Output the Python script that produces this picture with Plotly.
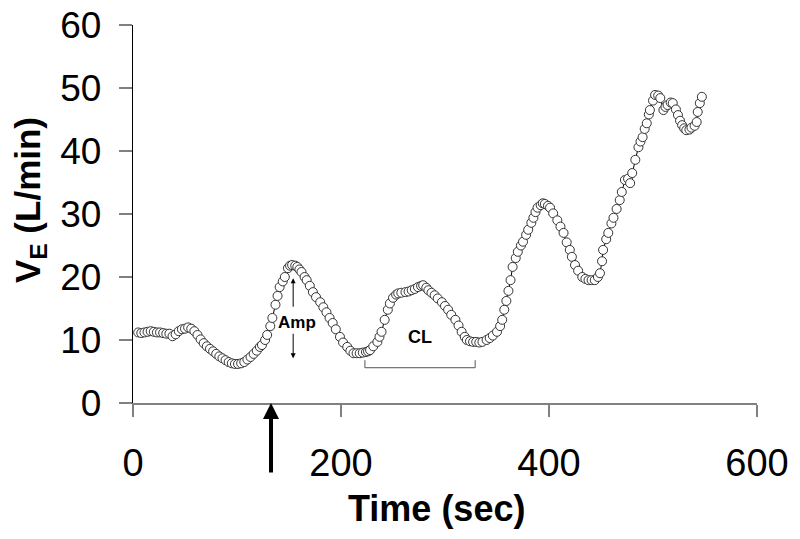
import plotly.graph_objects as go

# breath-by-breath ventilation
time_sec = [5, 8, 11, 14, 17, 20, 23, 26, 29, 32, 35, 38, 41, 44, 47, 50, 53, 56, 59, 62,
            65, 68, 71, 74, 77, 80, 83, 86, 89, 92, 95, 98, 101, 104, 107, 110, 113, 116, 119, 122,
            124, 127, 129, 132, 134, 137, 139, 141, 144, 146, 149, 151, 153, 156, 158, 160, 162, 165, 167, 170,
            173, 176, 180, 183, 186, 189, 192, 195, 199, 202, 206, 209, 212, 215, 218, 221, 224, 226, 228, 231,
            235, 237, 239, 242, 245, 247, 250, 253, 255, 258, 262, 265, 268, 271, 274, 277, 279, 282, 284, 287,
            290, 293, 297, 300, 303, 306, 310, 313, 316, 319, 321, 324, 327, 330, 333, 336, 340, 343, 346, 350,
            353, 355, 357, 359, 361, 363, 365, 368, 370, 373, 375, 378, 380, 383, 385, 387, 389, 392, 394, 396,
            399, 401, 404, 408, 411, 414, 417, 420, 422, 425, 428, 432, 435, 438, 441, 444, 447, 449, 451, 452,
            455, 457, 460, 462, 465, 468, 470, 473, 476, 478, 480, 483, 486, 488, 490, 492, 494, 496, 497, 500,
            502, 505, 507, 510, 512, 514, 517, 519, 522, 524, 526, 528, 530, 532, 535, 537, 540, 542, 543, 545,
            547]
ve_lmin = [11.2, 11.1, 11.2, 11.3, 11.4, 11.3, 11.2, 11.2, 11.1, 11.0, 11.0, 10.6, 10.9, 11.4, 11.7, 11.8, 12.0, 11.8, 11.4, 10.8,
           10.1, 9.5, 9.0, 8.6, 8.2, 7.8, 7.4, 7.1, 6.8, 6.5, 6.3, 6.2, 6.2, 6.3, 6.5, 6.9, 7.3, 7.8, 8.3, 8.9,
           9.2, 10.0, 10.8, 12.2, 13.5, 15.6, 17.0, 18.4, 19.3, 20.0, 21.4, 21.8, 21.9, 21.8, 21.6, 21.2, 20.8, 20.0, 19.5, 18.6,
           17.6, 16.8, 16.0, 15.2, 14.4, 13.5, 12.7, 11.7, 10.5, 9.6, 8.9, 8.3, 7.9, 7.9, 7.9, 8.0, 8.1, 8.2, 8.4, 9.0,
           9.7, 10.5, 11.3, 13.2, 14.8, 15.8, 16.7, 17.2, 17.4, 17.5, 17.6, 17.7, 17.9, 18.1, 18.4, 18.6, 18.7, 18.3, 17.9, 17.5,
           17.1, 16.6, 16.0, 15.4, 14.8, 14.0, 13.2, 12.3, 11.3, 10.5, 10.0, 9.8, 9.7, 9.7, 9.6, 9.7, 10.0, 10.3, 10.7, 11.3,
           12.2, 13.2, 14.8, 16.2, 17.8, 19.5, 21.6, 23.0, 24.0, 25.0, 25.6, 26.7, 27.5, 28.6, 29.4, 30.3, 31.0, 31.4, 31.7, 31.6,
           31.3, 31.0, 30.1, 29.0, 28.0, 27.0, 25.5, 24.3, 23.2, 21.9, 21.0, 20.0, 19.7, 19.5, 19.5, 19.5, 20.0, 20.6, 22.5, 24.3,
           26.0, 27.0, 28.5, 29.4, 30.8, 32.2, 33.5, 35.4, 35.6, 34.9, 36.5, 38.6, 40.6, 41.5, 42.2, 43.5, 44.4, 45.8, 46.5, 48.0,
           48.9, 48.8, 48.4, 46.5, 47.0, 47.3, 47.7, 47.6, 46.6, 45.7, 44.8, 44.1, 43.6, 43.3, 43.4, 43.7, 44.0, 44.6, 46.2, 47.6,
           48.6]

x_ticks = [0, 200, 400, 600]
y_ticks = [0, 10, 20, 30, 40, 50, 60]

FONT = "Liberation Sans, Arial, sans-serif"

fig = go.Figure()
fig.add_trace(go.Scatter(
    x=time_sec, y=ve_lmin,
    mode="lines+markers",
    line=dict(color="black", width=1),
    marker=dict(symbol="circle", size=9, color="white",
                line=dict(color="#333333", width=1)),
    showlegend=False,
))

annotations = [
    # onset arrow below the time axis
    dict(x=132.7, y=0, xref="x", yref="y", ax=0, ay=71, text="",
         showarrow=True, arrowhead=2, arrowsize=0.8, arrowwidth=4, arrowcolor="black"),
    # amplitude arrows
    dict(x=154, y=19.8, xref="x", yref="y", ax=0, ay=30, text="",
         showarrow=True, arrowhead=2, arrowsize=1, arrowwidth=1, arrowcolor="black"),
    dict(x=154, y=7.1, xref="x", yref="y", ax=0, ay=-26, text="",
         showarrow=True, arrowhead=2, arrowsize=1, arrowwidth=1, arrowcolor="black"),
    dict(x=158, y=12.7, xref="x", yref="y", text="<b>Amp</b>", showarrow=False,
         font=dict(family=FONT, size=17, color="black")),
    dict(x=276, y=10.5, xref="x", yref="y", text="<b>CL</b>", showarrow=False,
         font=dict(family=FONT, size=18, color="black")),
    # axis titles
    dict(x=-0.165, y=0.537, xref="paper", yref="paper", textangle=-90,
         xanchor="center", yanchor="middle",
         text="<b>V<sub>E</sub> (L/min)</b>", showarrow=False,
         font=dict(family=FONT, size=35, color="black")),
    dict(x=0.486, y=-0.278, xref="paper", yref="paper",
         xanchor="center", yanchor="middle",
         text="<b>Time (sec)</b>", showarrow=False,
         font=dict(family=FONT, size=36, color="black")),
]

fig.add_shape(type="path", xref="x", yref="y",
              path="M 223 6.8 L 223 5.6 L 329 5.6 L 329 6.8",
              line=dict(color="#555555", width=1))

# page body keeps its default 8px margin, so the plot box is shifted by that
fig.update_layout(
    width=800, height=539,
    margin=dict(l=125, r=51, t=17, b=144),
    paper_bgcolor="white", plot_bgcolor="white",
    annotations=annotations,
    font=dict(family=FONT, color="black"),
)
fig.update_xaxes(
    range=[0, 600], tickvals=x_ticks, showgrid=False, zeroline=False,
    automargin=False, ticklabeloverflow="allow",
    showline=True, linecolor="#808080", linewidth=1.5,
    ticks="outside", ticklen=12, tickwidth=1.5, tickcolor="#808080",
    tickfont=dict(family=FONT, size=38, color="black"), ticklabelstandoff=14,
)
fig.update_yaxes(
    range=[0, 60], tickvals=y_ticks, showgrid=False, zeroline=False,
    automargin=False, ticklabeloverflow="allow",
    showline=True, linecolor="black", linewidth=1.3,
    ticks="outside", ticklen=13, tickwidth=1.5, tickcolor="#808080",
    tickfont=dict(family=FONT, size=37, color="black"), ticklabelstandoff=10,
)

fig.write_html("out.html")
